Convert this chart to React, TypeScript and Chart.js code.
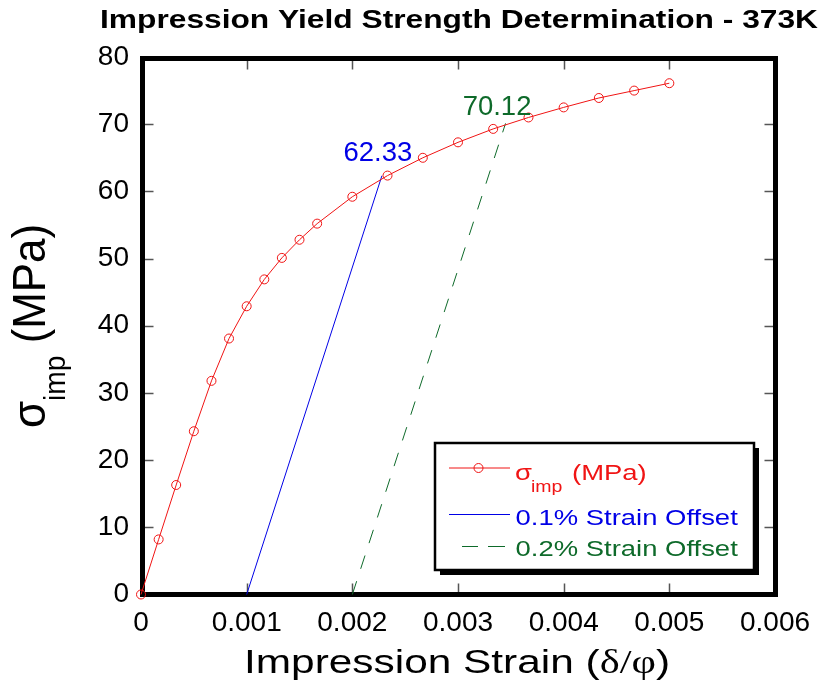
import React, { useEffect, useRef } from 'react';
import { Chart, registerables } from 'chart.js';

Chart.register(...registerables);

// ---- data ----
const strainValues = [0, 0.000167, 0.000333, 0.0005, 0.000667, 0.000833, 0.001, 0.001167, 0.001333, 0.0015, 0.001667, 0.002, 0.002333, 0.002667, 0.003, 0.003333, 0.003667, 0.004, 0.004333, 0.004667, 0.005];
const stressValues = [0, 8.2, 16.3, 24.3, 31.8, 38.1, 42.9, 46.9, 50.1, 52.8, 55.2, 59.2, 62.35, 65.0, 67.3, 69.3, 71.0, 72.5, 73.9, 75.0, 76.1];
const offset01Strain = [0.001, 0.00228];
const offset01Stress = [0, 62.33];
const offset02Strain = [0.002, 0.00345];
const offset02Stress = [0, 70.12];
const yieldLabels = ['62.33', '70.12'];
const xAxisRange = [0, 0.006, 0.001];
const yAxisRange = [0, 80, 10];

const chartTitle = 'Impression Yield Strength Determination - 373K';
const xTitleParts = ['Impression Strain (', 'δ/φ', ')'];
const yTitleParts = ['σ', 'imp', ' (MPa)'];
const legendParts = ['σ', 'imp', '(MPa)', '0.1% Strain Offset', '0.2% Strain Offset'];

const SANS = "'Liberation Sans', Arial, sans-serif";
const SERIF = "'Liberation Serif', 'Times New Roman', serif";
const RED = '#f01414';
const BLUE = '#0000e6';
const GREEN = '#0e6a2a';

function txt(ctx: CanvasRenderingContext2D, s: string, x: number, y: number, font: string, color: string, sx = 1) {
  ctx.save();
  ctx.font = font;
  ctx.fillStyle = color;
  ctx.textBaseline = 'alphabetic';
  ctx.textAlign = 'left';
  ctx.translate(x, y);
  ctx.scale(sx, 1);
  ctx.fillText(s, 0, 0);
  ctx.restore();
}

const framePlugin = {
  id: 'frame',
  beforeDatasetsDraw(chart: any) {
    const { ctx, chartArea: a, scales } = chart;
    const L = a.left + 1.5, T = a.top + 1.5, R = a.right + 0.5, B = a.bottom;
    ctx.save();
    ctx.strokeStyle = '#555';
    ctx.lineWidth = 1.5;
    const tl = 11;
    scales.x.ticks.forEach((t: any) => {
      if (t.value <= xAxisRange[0] || t.value >= xAxisRange[1]) return;
      const px = Math.round(scales.x.getPixelForValue(t.value)) + 0.5;
      ctx.beginPath();
      ctx.moveTo(px, B); ctx.lineTo(px, B - tl);
      ctx.moveTo(px, T); ctx.lineTo(px, T + tl);
      ctx.stroke();
    });
    scales.y.ticks.forEach((t: any) => {
      if (t.value <= yAxisRange[0] || t.value >= yAxisRange[1]) return;
      const py = Math.round(scales.y.getPixelForValue(t.value)) + 0.5;
      ctx.beginPath();
      ctx.moveTo(L, py); ctx.lineTo(L + tl, py);
      ctx.moveTo(R, py); ctx.lineTo(R - tl, py);
      ctx.stroke();
    });
    ctx.strokeStyle = '#000';
    ctx.lineWidth = 5;
    ctx.strokeRect(L, T, R - L, B - T);
    ctx.restore();
  },
};

const annotatePlugin = {
  id: 'annotate',
  afterDraw(chart: any) {
    const { ctx, scales } = chart;
    ctx.save();
    // yield labels
    const numFont = `27.5px ${SANS}`;
    {
      const px = scales.x.getPixelForValue(offset01Strain[1]);
      const py = scales.y.getPixelForValue(offset01Stress[1]);
      ctx.font = numFont;
      const w = ctx.measureText(yieldLabels[0]).width;
      txt(ctx, yieldLabels[0], px - 4 - w / 2, py - 15, numFont, BLUE);
    }
    {
      const px = scales.x.getPixelForValue(offset02Strain[1]);
      const py = scales.y.getPixelForValue(offset02Stress[1]);
      ctx.font = numFont;
      const w = ctx.measureText(yieldLabels[1]).width;
      txt(ctx, yieldLabels[1], px - 8.5 - w / 2, py - 8.5, numFont, GREEN);
    }

    // title
    {
      const f = `bold 25.5px ${SANS}`;
      ctx.font = f;
      const w = ctx.measureText(chartTitle).width;
      txt(ctx, chartTitle, 100, 28, f, '#000', 718 / w);
    }

    // x axis title
    {
      const fs = `34px ${SANS}`;
      const fr = `34px ${SERIF}`;
      ctx.font = fs; const w1 = ctx.measureText(xTitleParts[0]).width;
      ctx.font = fr; const w2 = ctx.measureText(xTitleParts[1]).width;
      ctx.font = fs; const w3 = ctx.measureText(xTitleParts[2]).width;
      const sx = 426 / (w1 + w2 + w3);
      let x = 244;
      txt(ctx, xTitleParts[0], x, 673, fs, '#000', sx); x += w1 * sx;
      txt(ctx, xTitleParts[1], x, 673, fr, '#000', sx); x += w2 * sx;
      txt(ctx, xTitleParts[2], x, 673, fs, '#000', sx);
    }

    // y axis title (rotated)
    {
      const fm = `42px ${SANS}`;
      const fsub = `27px ${SANS}`;
      ctx.font = fm; const a = ctx.measureText(yTitleParts[0]).width;
      ctx.font = fsub; const b = ctx.measureText(yTitleParts[1]).width;
      ctx.font = fm; const c = ctx.measureText(yTitleParts[2]).width;
      const total = a + b + c;
      const k = 204 / total;
      ctx.save();
      ctx.translate(45, 326);
      ctx.rotate(-Math.PI / 2);
      ctx.scale(k, 1.08);
      let x = -total / 2;
      txt(ctx, yTitleParts[0], x, 0, fm, '#000'); x += a;
      txt(ctx, yTitleParts[1], x, 18.5, fsub, '#000'); x += b;
      txt(ctx, yTitleParts[2], x, 0, fm, '#000');
      ctx.restore();
    }

    // legend
    {
      const bx = 435, by = 443, bw = 319, bh = 127;
      ctx.fillStyle = '#000';
      ctx.fillRect(bx + 5, by + 5, bw, bh);
      ctx.fillStyle = '#fff';
      ctx.fillRect(bx, by, bw, bh);
      ctx.strokeStyle = '#000';
      ctx.lineWidth = 2.5;
      ctx.strokeRect(bx, by, bw, bh);

      const lf = `22.5px ${SANS}`;
      const sf = `16px ${SANS}`;
      const sx = 1.22;
      // row 1
      ctx.lineWidth = 1;
      ctx.strokeStyle = RED;
      ctx.beginPath(); ctx.moveTo(449, 468); ctx.lineTo(510, 468); ctx.stroke();
      ctx.beginPath(); ctx.arc(478.5, 468, 4.5, 0, Math.PI * 2); ctx.stroke();
      txt(ctx, legendParts[0], 515, 480, lf, RED, sx);
      txt(ctx, legendParts[1], 531, 492, sf, RED, sx);
      txt(ctx, legendParts[2], 572, 480, lf, RED, sx);
      // row 2
      ctx.strokeStyle = BLUE;
      ctx.beginPath(); ctx.moveTo(449, 514.5); ctx.lineTo(510, 514.5); ctx.stroke();
      txt(ctx, legendParts[3], 515.5, 525, lf, BLUE, sx);
      // row 3
      ctx.strokeStyle = GREEN;
      ctx.beginPath();
      ctx.moveTo(462, 546.5); ctx.lineTo(478, 546.5);
      ctx.moveTo(488, 546.5); ctx.lineTo(505, 546.5);
      ctx.stroke();
      txt(ctx, legendParts[4], 515.5, 556, lf, GREEN, sx);
    }
    ctx.restore();
  },
};

export default function App() {
  const ref = useRef<HTMLCanvasElement | null>(null);
  useEffect(() => {
    if (!ref.current) return;
    const toPts = (xs: number[], ys: number[]) => xs.map((x, i) => ({ x, y: ys[i] }));
    const chart = new Chart(ref.current, {
      type: 'scatter',
      data: {
        datasets: [
          {
            label: 'σimp (MPa)',
            data: toPts(strainValues, stressValues),
            showLine: true,
            borderColor: RED,
            borderWidth: 1,
            pointRadius: 4.5,
            pointBorderWidth: 1,
            pointBorderColor: RED,
            pointBackgroundColor: 'rgba(0,0,0,0)',
            clip: false,
          } as any,
          {
            label: '0.1% Strain Offset',
            data: toPts(offset01Strain, offset01Stress),
            showLine: true,
            borderColor: BLUE,
            borderWidth: 1,
            pointRadius: 0,
            clip: false,
          } as any,
          {
            label: '0.2% Strain Offset',
            data: toPts(offset02Strain, offset02Stress),
            showLine: true,
            borderColor: GREEN,
            borderWidth: 1,
            borderDash: [14, 13],
            pointRadius: 0,
            clip: false,
          } as any,
        ],
      },
      options: {
        responsive: false,
        animation: false,
        events: [],
        layout: { padding: { left: 0, top: 57, right: 53, bottom: 49.5 } },
        plugins: { legend: { display: false }, tooltip: { enabled: false }, title: { display: false } },
        scales: {
          x: {
            type: 'linear',
            min: xAxisRange[0],
            max: xAxisRange[1],
            grid: { display: false, drawTicks: false },
            border: { display: false },
            ticks: {
              stepSize: xAxisRange[2],
              padding: 12,
              color: '#000',
              font: { family: SANS, size: 28 },
              maxRotation: 0,
              autoSkip: false,
              callback: (v: any) => String(Number(Number(v).toFixed(3))),
            },
            afterFit: (s: any) => { s.height = 50; },
          },
          y: {
            type: 'linear',
            min: yAxisRange[0],
            max: yAxisRange[1],
            grid: { display: false, drawTicks: false },
            border: { display: false },
            ticks: {
              stepSize: yAxisRange[2],
              padding: 12,
              color: '#000',
              font: { family: SANS, size: 28 },
            },
            afterFit: (s: any) => { s.width = 141; },
          },
        },
      },
      plugins: [framePlugin, annotatePlugin],
    });
    return () => chart.destroy();
  }, []);
  return (
    <div style={{ position: 'fixed', left: 0, top: 0, width: 828, height: 694, background: '#fff' }}>
      <canvas ref={ref} width={828} height={694} />
    </div>
  );
}
